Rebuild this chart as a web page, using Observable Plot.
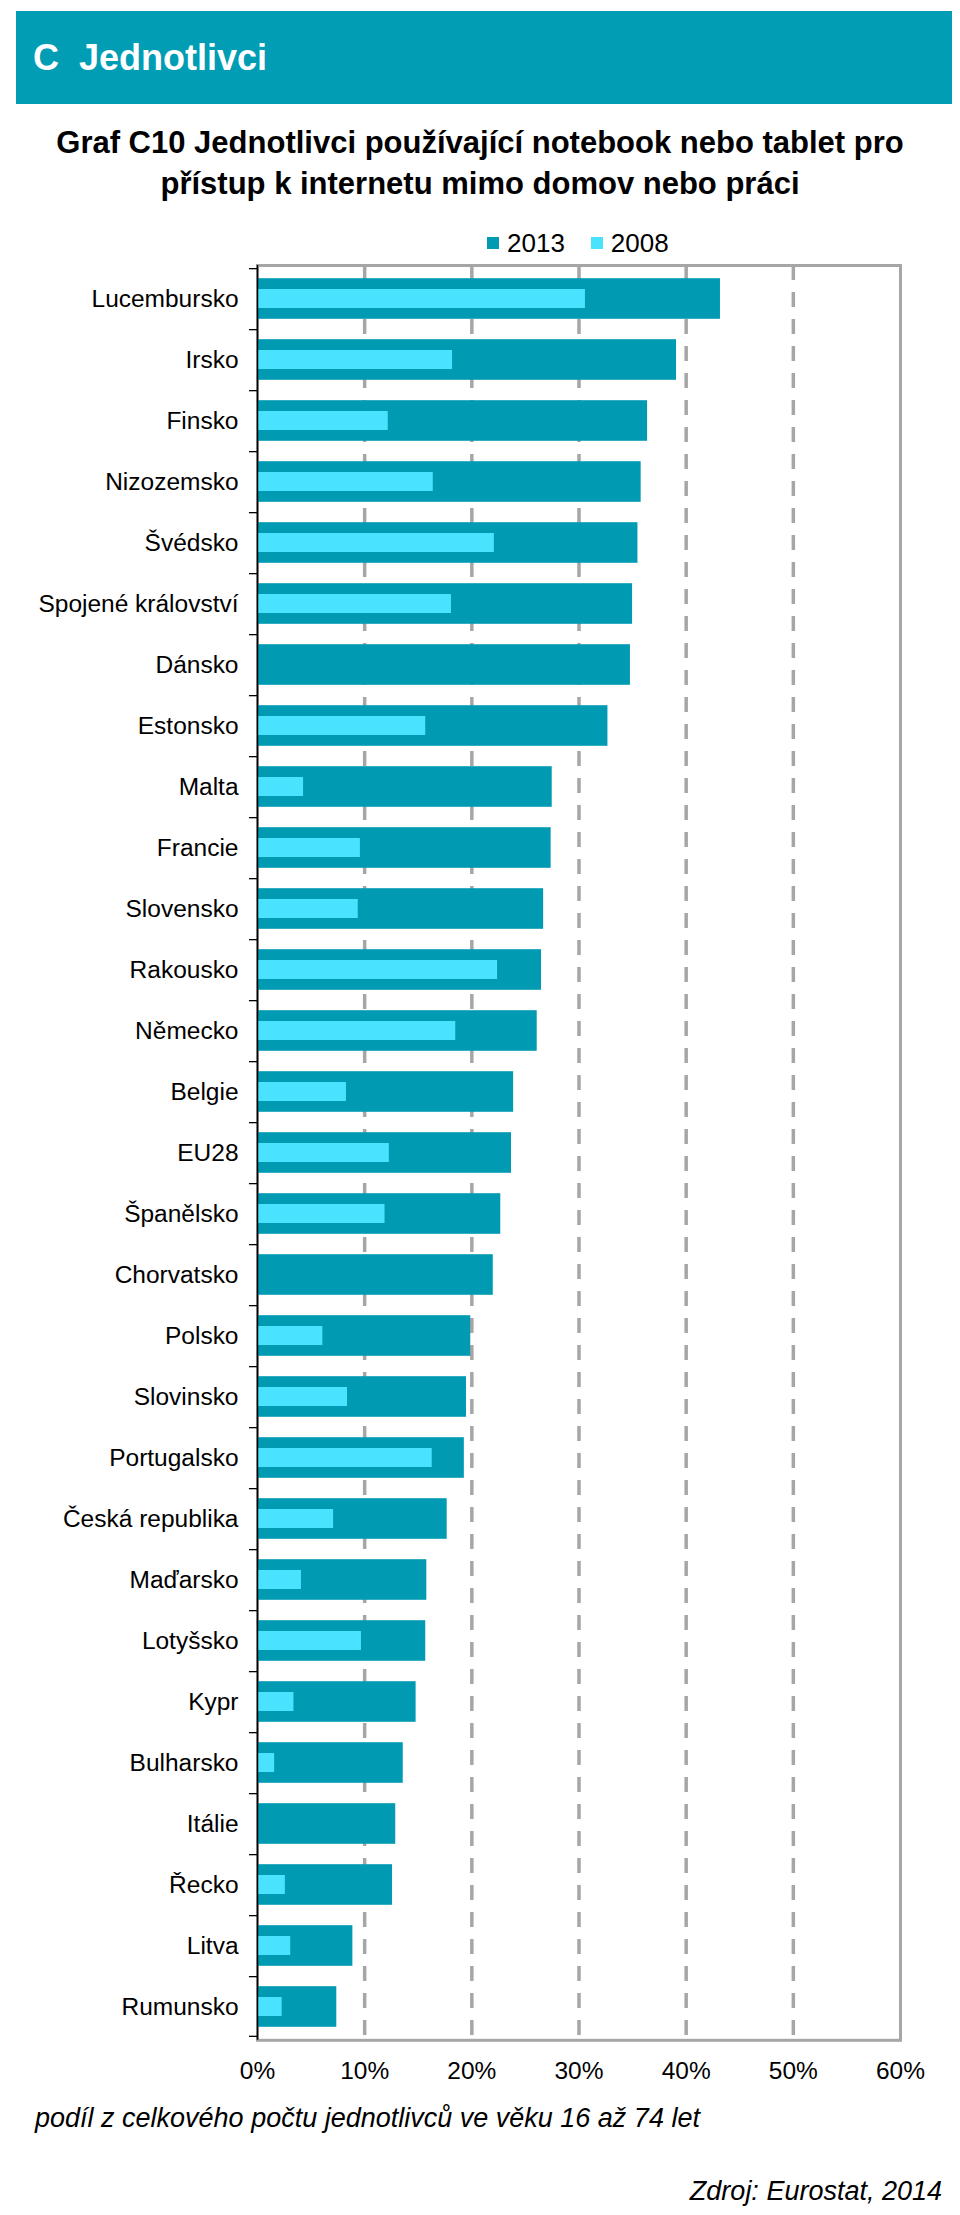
<!DOCTYPE html>
<html>
<head>
<meta charset="utf-8">
<script src="https://cdn.jsdelivr.net/npm/d3@7"></script>
<script src="https://cdn.jsdelivr.net/npm/@observablehq/plot@0.6"></script>
<style>
  html, body { margin: 0; padding: 0; background: #ffffff; }
  body { position: relative; width: 960px; height: 2215px; font-family: "Liberation Sans", Arial, sans-serif; color: #000; overflow: hidden; }
  #header { position: absolute; left: 16px; top: 11px; width: 936px; height: 93px; box-sizing: border-box; padding-left: 17px;
            background: #009DB5; color: #fff; font-weight: bold; font-size: 36px; line-height: 93px; white-space: pre; }
  #title { position: absolute; left: 0; top: 122px; width: 960px; text-align: center; font-weight: bold; font-size: 31px; line-height: 41px; }
  #legend { position: absolute; left: 487px; top: 229px; height: 28px; display: flex; align-items: center; font-size: 26px; }
  #legend .item { display: flex; align-items: center; margin-right: 26px; }
  #legend .sw { width: 12px; height: 12px; margin-right: 8px; }
  #chart { position: absolute; left: 0; top: 225px; }
  #caption { position: absolute; left: 35px; top: 2102px; font-style: italic; font-size: 27px; line-height: 32px; white-space: nowrap; }
  #source { position: absolute; right: 18px; top: 2175px; font-style: italic; font-size: 27px; line-height: 32px; white-space: nowrap; }
</style>
</head>
<body>
<div id="header">C  Jednotlivci</div>
<div id="title">Graf C10 Jednotlivci používající notebook nebo tablet pro<br>přístup k internetu mimo domov nebo práci</div>
<div id="legend"></div>
<div id="chart"></div>
<div id="caption">podíl z celkového počtu jednotlivců ve věku 16 až 74 let</div>
<div id="source">Zdroj: Eurostat, 2014</div>
<script>
// ---- data ----
const countries = ["Lucembursko","Irsko","Finsko","Nizozemsko","Švédsko","Spojené království","Dánsko","Estonsko","Malta","Francie","Slovensko","Rakousko","Německo","Belgie","EU28","Španělsko","Chorvatsko","Polsko","Slovinsko","Portugalsko","Česká republika","Maďarsko","Lotyšsko","Kypr","Bulharsko","Itálie","Řecko","Litva","Rumunsko"];
const values2013 = [43.2, 39.1, 36.4, 35.8, 35.5, 35.0, 34.8, 32.7, 27.5, 27.4, 26.7, 26.5, 26.1, 23.9, 23.7, 22.7, 22.0, 19.9, 19.5, 19.3, 17.7, 15.8, 15.7, 14.8, 13.6, 12.9, 12.6, 8.9, 7.4];
const values2008 = [30.6, 18.2, 12.2, 16.4, 22.1, 18.1, null, 15.7, 4.3, 9.6, 9.4, 22.4, 18.5, 8.3, 12.3, 11.9, null, 6.1, 8.4, 16.3, 7.1, 4.1, 9.7, 3.4, 1.6, null, 2.6, 3.1, 2.3];
const seriesNames = ["2013", "2008"];
const seriesColors = ["#009AB3", "#4AE3FF"];
const xTicks = [0, 10, 20, 30, 40, 50, 60];
const gridTicks = [10, 20, 30, 40, 50];

// ---- legend ----
const legend = document.getElementById("legend");
seriesNames.forEach((name, i) => {
  const item = document.createElement("div");
  item.className = "item";
  const sw = document.createElement("span");
  sw.className = "sw";
  sw.style.background = seriesColors[i];
  const label = document.createElement("span");
  label.textContent = name;
  item.appendChild(sw);
  item.appendChild(label);
  legend.appendChild(item);
});

// ---- chart ----
const rows = countries.map((c, i) => ({country: c, v2013: values2013[i], v2008: values2008[i]}));
const rows2008 = rows.filter(d => d.v2008 != null);

const bandH = 61.2;
const marginTop = 40, marginBottom = 60, marginLeft = 257, marginRight = 60;
const height = marginTop + marginBottom + countries.length * bandH;
const lastCountry = [countries[countries.length - 1]];

const chart = Plot.plot({
  width: 960,
  height,
  marginTop, marginBottom, marginLeft, marginRight,
  style: {fontFamily: "'Liberation Sans', Arial, sans-serif", fontSize: "24.5px", color: "#000", background: "transparent", overflow: "visible"},
  x: {domain: [0, 60], ticks: xTicks, tickFormat: d => d + "%", tickSize: 0, tickPadding: 21, label: null},
  y: {domain: countries, padding: 0, tickSize: 0, tickPadding: 19, label: null},
  marks: [
    Plot.ruleX(gridTicks, {stroke: "#A6A6A6", strokeWidth: 3.5, strokeDasharray: "15,12"}),
    Plot.frame({stroke: "#A6A6A6", strokeWidth: 3}),
    Plot.barX(rows, {x: "v2013", y: "country", fill: seriesColors[0], insetTop: 10.2, insetBottom: 10.2}),
    Plot.barX(rows2008, {x: "v2008", y: "country", fill: seriesColors[1], insetTop: 21, insetBottom: 21}),
    // band boundary ticks on the category axis
    Plot.barX(countries, {x1: -0.75, x2: 0, y: d => d, fill: "#000", insetBottom: bandH - 1.5}),
    Plot.barX(lastCountry, {x1: -0.75, x2: 0, y: d => d, fill: "#000", insetTop: bandH - 1.5}),
    Plot.ruleX([0], {stroke: "#000", strokeWidth: 1.5})
  ]
});
document.getElementById("chart").appendChild(chart);
</script>
</body>
</html>
